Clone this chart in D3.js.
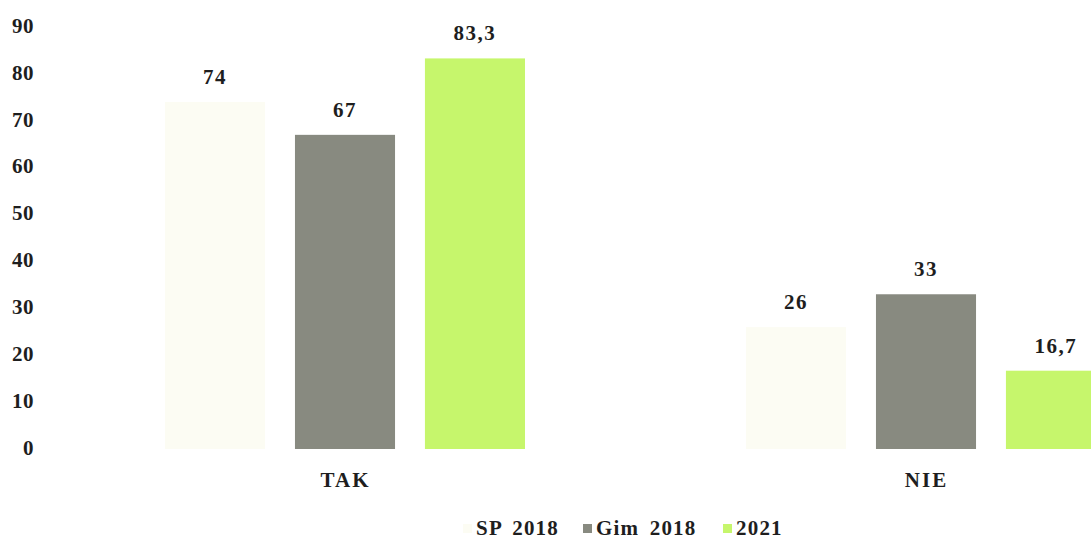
<!DOCTYPE html>
<html><head><meta charset="utf-8">
<script src="https://cdn.jsdelivr.net/npm/d3@7"></script>
<style>
body{margin:0;background:#fff;}
text{font-family:"Liberation Serif","Times New Roman",serif;font-weight:bold;fill:#1e1e1e;}
</style></head>
<body><svg id="c" width="1091" height="542"></svg>
<script>
const categories = ["TAK", "NIE"];
const seriesNames = ["SP 2018", "Gim 2018", "2021"];
const sp2018 = [74, 26];
const gim2018 = [67, 33];
const y2021 = [83.3, 16.7];
const valueLabels = [["74", "26"], ["67", "33"], ["83,3", "16,7"]];
const yTicks = [0, 10, 20, 30, 40, 50, 60, 70, 80, 90];
const colors = ["#fcfcf3", "#888a80", "#c6f66c"];

const seriesValues = [sp2018, gim2018, y2021];
const svg = d3.select("#c");
const y = d3.scaleLinear().domain([0, 90]).range([449, 27]);
const x0 = d3.scalePoint().domain(categories).range([345, 926]);
const x1 = d3.scaleBand().domain(seriesNames).range([-180, 180]).paddingInner(0.23);
const FS = "21px";

// y axis labels
const yAxis = d3.axisLeft(y).tickValues(yTicks).tickSize(0).tickPadding(0);
const ga = svg.append("g").attr("transform", "translate(34,0)").call(yAxis);
ga.select(".domain").remove();
ga.selectAll("text").attr("dy", "0.25em").style("font-size", FS).style("font-family", "Liberation Serif, serif").style("font-weight", "bold").style("letter-spacing", "0.5px").attr("fill", "#1e1e1e");

// bars
seriesNames.forEach((s, si) => {
  categories.forEach((c, ci) => {
    const v = seriesValues[si][ci];
    const bx = x0(c) + x1(s);
    svg.append("rect")
      .attr("x", bx).attr("y", y(v))
      .attr("width", x1.bandwidth()).attr("height", y(0) - y(v))
      .attr("fill", colors[si]);
    svg.append("text")
      .attr("x", bx + x1.bandwidth() / 2).attr("y", y(v) - 18)
      .attr("text-anchor", "middle").style("font-size", FS).style("letter-spacing", "1.5px")
      .text(valueLabels[si][ci]);
  });
});

// x axis labels
const xAxis = d3.axisBottom(x0).tickSize(0).tickPadding(0);
const gx = svg.append("g").attr("transform", "translate(0,472)").call(xAxis);
gx.select(".domain").remove();
gx.selectAll("text").style("font-size", FS).style("font-family", "Liberation Serif, serif").style("font-weight", "bold").style("letter-spacing", "2px").attr("fill", "#1e1e1e");

// legend
const legendX = [463, 583, 723];
seriesNames.forEach((s, i) => {
  svg.append("rect").attr("x", legendX[i]).attr("y", 524).attr("width", 9).attr("height", 9).attr("fill", colors[i]);
  svg.append("text").attr("x", legendX[i] + 13).attr("y", 535).style("font-size", FS).style("letter-spacing", "1.2px").style("word-spacing", "4px").text(s);
});
</script></body></html>
